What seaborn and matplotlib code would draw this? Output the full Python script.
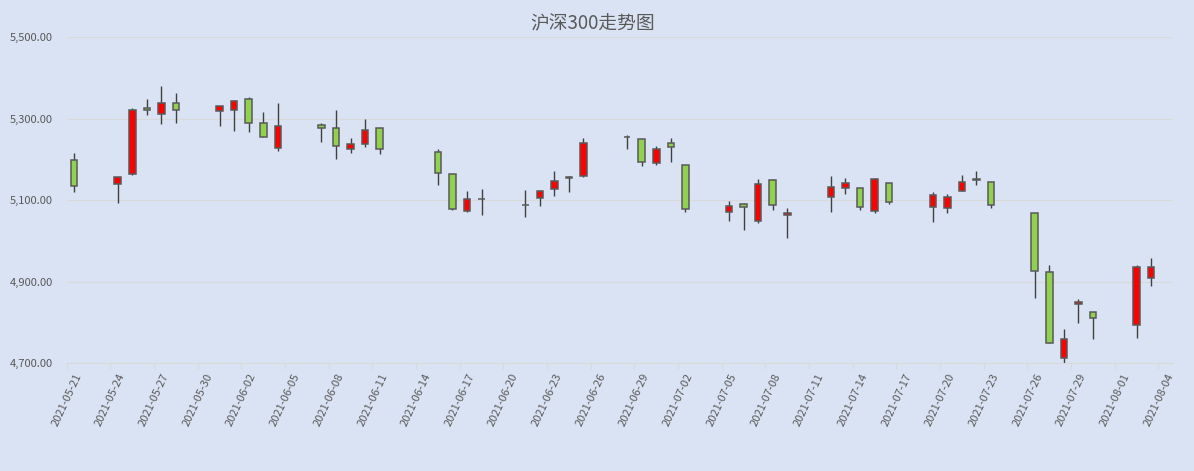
import datetime as dt
import matplotlib
matplotlib.use("Agg")
import matplotlib.pyplot as plt
import seaborn as sns
import numpy as np

sns.set_theme(style="whitegrid")
plt.rcParams["font.family"] = ["Noto Sans CJK SC", "DejaVu Sans"]

# trading days shown on the chart
dates = ["2021-05-21", "2021-05-24", "2021-05-25", "2021-05-26", "2021-05-27", "2021-05-28",
         "2021-05-31", "2021-06-01", "2021-06-02", "2021-06-03", "2021-06-04",
         "2021-06-07", "2021-06-08", "2021-06-09", "2021-06-10", "2021-06-11",
         "2021-06-15", "2021-06-16", "2021-06-17", "2021-06-18",
         "2021-06-21", "2021-06-22", "2021-06-23", "2021-06-24", "2021-06-25",
         "2021-06-28", "2021-06-29", "2021-06-30", "2021-07-01", "2021-07-02",
         "2021-07-05", "2021-07-06", "2021-07-07", "2021-07-08", "2021-07-09",
         "2021-07-12", "2021-07-13", "2021-07-14", "2021-07-15", "2021-07-16",
         "2021-07-19", "2021-07-20", "2021-07-21", "2021-07-22", "2021-07-23",
         "2021-07-26", "2021-07-27", "2021-07-28", "2021-07-29", "2021-07-30",
         "2021-08-02", "2021-08-03"]
opens = [5199.5, 5138.5, 5163, 5327, 5311, 5339,
         5319, 5321, 5349, 5288, 5228,
         5285, 5278, 5226, 5237, 5278,
         5218, 5164, 5073, 5104,
         5087, 5105, 5127, 5154, 5159,
         5254, 5249, 5190, 5241, 5186,
         5072, 5090, 5050, 5149, 5063,
         5107, 5130, 5130, 5073, 5142,
         5083, 5080, 5122, 5150, 5144,
         5068, 4925, 4712, 4846, 4826,
         4794, 4910]
highs = [5216, 5157, 5325, 5347, 5381, 5362,
         5332, 5345, 5354, 5315, 5337,
         5288, 5320, 5253, 5300, 5278,
         5226, 5164, 5122, 5127,
         5125, 5125, 5172, 5158, 5253,
         5260, 5250, 5232, 5253, 5186,
         5098, 5093, 5152, 5152, 5080,
         5159, 5154, 5130, 5154, 5142,
         5120, 5115, 5162, 5172, 5144,
         5068, 4942, 4784, 4858, 4826,
         4940, 4957]
lows = [5121, 5093, 5161, 5309, 5287, 5289,
        5282, 5269, 5267, 5255, 5221,
        5243, 5201, 5216, 5231, 5214,
        5137, 5075, 5072, 5064,
        5058, 5085, 5110, 5120, 5156,
        5226, 5184, 5185, 5193, 5072,
        5048, 5028, 5045, 5077, 5006,
        5070, 5115, 5075, 5068, 5090,
        5047, 5068, 5122, 5137, 5080,
        4860, 4749, 4701, 4799, 4759,
        4762, 4890]
closes = [5133.6, 5156.5, 5320, 5322, 5339, 5321,
          5332, 5342, 5289, 5256, 5283,
          5278, 5233, 5238, 5273, 5226,
          5167, 5079, 5102, 5102,
          5089, 5123, 5147, 5156, 5241,
          5255, 5193, 5225, 5231, 5079,
          5085, 5082, 5140, 5088, 5068,
          5132, 5142, 5083, 5152, 5095,
          5112, 5107, 5144, 5152, 5088,
          4927, 4749, 4759, 4851, 4811,
          4935, 4935]

start = dt.date(2021, 5, 21)
end = dt.date(2021, 8, 4)
BG = "#DAE3F3"
GRID = "#D9D9D9"
TXT = "#595959"

day = np.array([(dt.date.fromisoformat(d) - start).days for d in dates]) + 0.5
o = np.array(opens)
c = np.array(closes)
up = c >= o
colors = np.where(up, "#FF0000", "#92D050")
bottom = np.minimum(o, c)
height = np.maximum(np.abs(c - o), 1.0)

fig = plt.figure(figsize=(11.94, 4.71), dpi=100, facecolor=BG)
ax = fig.add_axes([0.0559, 0.2287, 0.9265, 0.6927])
ax.set_facecolor(BG)

ax.vlines(day, lows, highs, color="#404040", linewidth=1.0, zorder=2)
ax.bar(day, height, bottom=bottom, width=0.45, color=colors,
       edgecolor="#595959", linewidth=1.1, zorder=3)

n_days = (end - start).days
ax.set_xlim(0, n_days + 1)
ax.set_ylim(4700, 5500)
yt = [4700, 4900, 5100, 5300, 5500]
ax.set_yticks(yt)
ax.set_yticklabels([f"{v:,.2f}" for v in yt], color=TXT, fontsize=8)
xt = list(range(0, n_days + 1, 3))
ax.set_xticks(xt)
ax.set_xticklabels([(start + dt.timedelta(days=k)).isoformat() for k in xt],
                   rotation=65, ha="center", va="top", color=TXT, fontsize=8)

ax.grid(axis="y", color=GRID, linewidth=0.8)
ax.grid(axis="x", visible=False)
for s in ["left", "right", "top"]:
    ax.spines[s].set_visible(False)
ax.spines["bottom"].set_color(GRID)
ax.spines["bottom"].set_linewidth(0.8)
ax.tick_params(axis="x", length=4, color=GRID, width=0.8, pad=2, bottom=True)
ax.tick_params(axis="y", length=0, pad=10)

fig.text(0.496, 0.949, "沪深300走势图", ha="center", va="center", fontsize=13.5, color=TXT)

fig.savefig("out.png", dpi=100, facecolor=BG)
